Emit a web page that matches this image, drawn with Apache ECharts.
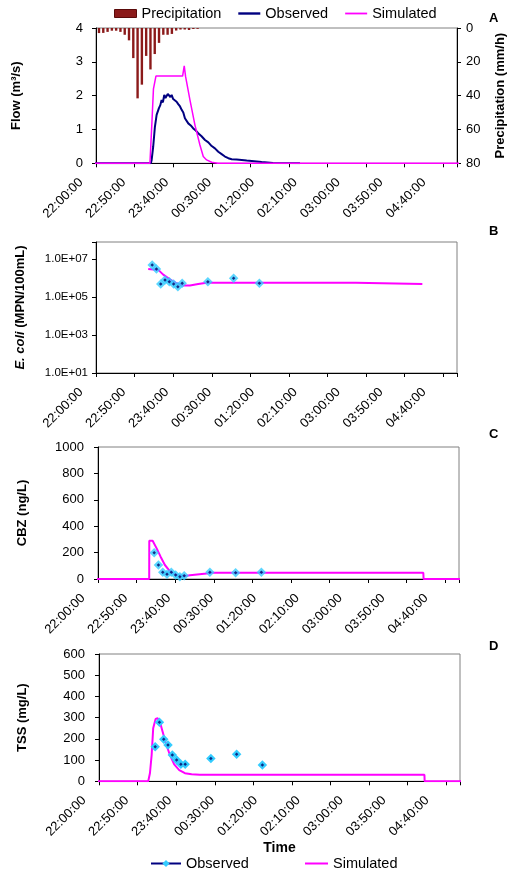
<!DOCTYPE html>
<html><head><meta charset="utf-8">
<script src="https://cdn.jsdelivr.net/npm/echarts@6/dist/echarts.min.js"></script>
<style>html,body{margin:0;padding:0;background:#fff}#c{width:510px;height:871px}</style>
</head><body><div id="c"></div>
<script>
// All times are minutes after 22:00:00
const timeLabels = ['22:00:00','22:50:00','23:40:00','00:30:00','01:20:00','02:10:00','03:00:00','03:50:00','04:40:00'];
const labelTimes = [0,50,100,150,200,250,300,350,400];

// Panel A
const precipTime = [23,28,33,38,43,48,53,58,63,68,73,78,83,88,93,98,103,108,113,118,123,128,133,138];
const precipValue = [3,2.9,2.3,1.6,1.6,2.3,4,7.3,17.8,41.6,33.5,16.5,24.5,15.4,8.8,4,4,3.5,1.5,0.9,0.9,1.2,0.6,0.5];
const flowObsTime = [0,83.5,84.4,86.2,88.2,90.2,92.9,94.5,96,97.5,99.1,100.5,101.9,103.2,104.6,106.2,107.7,109.5,111.6,113.5,115.4,117.5,119.4,121.3,123.2,125.1,127.1,130,132.9,135.8,138.7,142.6,146.6,150.5,154.4,158.2,162.1,166,169.9,173.8,177.7,183.5,189.4,195.2,201.1,212.7,225.9,257.4];
const flowObsValue = [0,0,0.1,0.49,1.08,1.43,1.63,1.72,1.87,1.8,2.02,1.93,1.92,2.05,2.04,1.96,2.02,1.9,1.87,1.82,1.75,1.68,1.58,1.5,1.33,1.28,1.18,1.12,1.03,0.97,0.89,0.8,0.69,0.62,0.51,0.44,0.34,0.27,0.2,0.15,0.12,0.11,0.1,0.08,0.07,0.04,0.01,0];
const flowSimTime = [0,82.4,83,84.7,86.5,89.4,120.5,122.4,124,129.1,134.9,140.7,144.6,148.5,154.4,161.7,445];
const flowSimValue = [0,0,0,1.2,2.2,2.58,2.58,2.88,2.56,1.87,1.13,0.54,0.2,0.1,0.03,0,0];

// Sampling times for observed water quality (B, C, D)
const sampleTime = [85,90,95,100,105,110,115,120,150,180,210];

// Panel B: E. coli (MPN/100mL)
const ecoliObs = [4.8e6,3.0e6,4.8e5,7.8e5,6.4e5,4.8e5,3.5e5,5.3e5,6.4e5,9.6e5,5.3e5];
const ecoliSimTime = [80.4,92.5,97.9,105.7,113.5,121.2,129.1,138.7,148.5,322.4,323.9,400.1];
const ecoliSimValue = [3.0e6,2.6e6,1.5e6,8.5e5,5.3e5,4.0e5,4.0e5,4.8e5,5.6e5,5.6e5,4.8e5,4.8e5];

// Panel C: CBZ (ng/L)
const cbzObs = [199,106,51,36,51,30,17,25,51,48,51];
const cbzSimTime = [0,79.2,79.3,83.2,87.9,92.5,97.5,102.6,107.2,113.1,120.9,126.7,146.2,152,398.9,399.2,445];
const cbzSimValue = [0,0,290,290,232,169,106,66,41,28,23,28,41,47,47,0,0];

// Panel D: TSS (mg/L)
const tssObs = [163,278,198,171,124,100,80,80,108,127,77];
const tssSimTime = [0,76.9,78.9,80.9,82.7,85.5,87.9,90.5,93.7,97.5,102.2,107.2,113.1,119.7,127.5,137.2,399,399.3,445];
const tssSimValue = [0,0,38,124,250,294,297,281,234,179,124,80,53,38,33,31,31,0,0];

const FONT = 'Liberation Sans, Arial, sans-serif';
const pairs = (t, v) => t.map((x, i) => [x, v[i]]);
const timeFmt = v => { const i = labelTimes.indexOf(Math.round(v * 1000) / 1000); return i >= 0 ? timeLabels[i] : ''; };
const nameFmt = n => n.split('|')[0];
const plainFmt = v => String(v);

const panels = [
  {left: 96, top: 28, height: 135.3, lm: 13},
  {left: 96, top: 242, height: 131, lm: 8},
  {left: 98, top: 447, height: 132, lm: 14},
  {left: 99, top: 654, height: 127.3, lm: 14}
];
const W = 361, LABEL_SHIFT = 15;

const grids = [], xAxes = [], yAxes = [];
panels.forEach((p, k) => {
  grids.push({left: p.left, top: p.top, width: W, height: p.height, show: true, borderColor: '#808080', borderWidth: 1,
    backgroundColor: 'transparent', containLabel: false, outerBoundsMode: 'none'});
  grids.push({left: p.left - LABEL_SHIFT, top: p.top, width: W, height: p.height, show: false, containLabel: false, outerBoundsMode: 'none'});
  xAxes.push({type: 'value', gridIndex: 2 * k, min: 19.5, max: 440.5, interval: 45,
    axisLine: {show: true, lineStyle: {color: '#000', width: 1}},
    axisTick: {show: true, length: 4, lineStyle: {color: '#000'}},
    axisLabel: {show: false}, splitLine: {show: false}});
  xAxes.push({type: 'value', gridIndex: 2 * k + 1, min: 0, max: 421, interval: 50,
    axisLine: {show: false}, axisTick: {show: false}, splitLine: {show: false},
    axisLabel: {show: true, rotate: 45, margin: 17, fontSize: 13, color: '#000', fontFamily: FONT, formatter: timeFmt, showMaxLabel: false}});
});
xAxes[6].name = 'Time';
xAxes[6].nameLocation = 'middle';
xAxes[6].nameGap = 60;
xAxes[6].nameTextStyle = {fontSize: 14, fontWeight: 'bold', color: '#000', fontFamily: FONT};

const yName = (gap) => ({nameLocation: 'middle', nameGap: gap, nameRotate: 90});
const yLine = {axisLine: {show: true, lineStyle: {color: '#000'}}, axisTick: {show: true, length: 4, lineStyle: {color: '#000'}}, splitLine: {show: false}};
const yLab = (m, fs, fmt) => ({axisLabel: {fontSize: fs, color: '#000', fontFamily: FONT, margin: m, formatter: fmt}});
const nameStyle = {fontSize: 13, fontWeight: 'bold', color: '#000', fontFamily: FONT};

// 0: flow
yAxes.push(Object.assign({type: 'value', gridIndex: 0, min: 0, max: 4, interval: 1, name: 'Flow (m³/s)', nameTextStyle: nameStyle}, yName(73), yLine, yLab(panels[0].lm, 13, plainFmt)));
// 1: precipitation (right, inverted)
yAxes.push(Object.assign({type: 'value', gridIndex: 0, position: 'right', inverse: true, min: 0, max: 80, interval: 20,
  name: 'Precipitation (mm/h)', nameTextStyle: nameStyle}, yName(37), yLine, yLab(9, 13, plainFmt)));
// 2: hidden label grid A
yAxes.push({type: 'value', gridIndex: 1, show: false, min: 0, max: 1});
// 3: E. coli log
yAxes.push(Object.assign({type: 'log', gridIndex: 2, logBase: 10, min: 10, max: 7.85e7, interval: 2,
  name: '{i|E. coli} (MPN/100mL)', nameTextStyle: Object.assign({}, nameStyle, {rich: {i: {fontStyle: 'italic', fontWeight: 'bold', fontSize: 13, fontFamily: FONT, color: '#000'}}})}, yName(69), yLine,
  yLab(panels[1].lm, 11.5, v => {
    const e = Math.log10(v); if (Math.abs(e - Math.round(e)) > 1e-6) return '';
    return '1.0E+' + String(Math.round(e)).padStart(2, '0'); })));
yAxes.push({type: 'value', gridIndex: 3, show: false, min: 0, max: 1});
// 5: CBZ
yAxes.push(Object.assign({type: 'value', gridIndex: 4, min: 0, max: 1000, interval: 200, name: 'CBZ (ng/L)', nameTextStyle: nameStyle}, yName(69), yLine, yLab(panels[2].lm, 13, plainFmt)));
yAxes.push({type: 'value', gridIndex: 5, show: false, min: 0, max: 1});
// 7: TSS
yAxes.push(Object.assign({type: 'value', gridIndex: 6, min: 0, max: 600, interval: 100, name: 'TSS (mg/L)', nameTextStyle: nameStyle}, yName(70), yLine, yLab(panels[3].lm, 13, plainFmt)));
yAxes.push({type: 'value', gridIndex: 7, show: false, min: 0, max: 1});

const OBS_FILL = '#33CCFF', OBS_DOT = '#000066', NAVY = '#000080', MAGENTA = '#FF00FF';
const obsSeries = (name, xi, yi, vals, type) => ([
  {name: name, type: type, xAxisIndex: xi, yAxisIndex: yi, data: pairs(sampleTime, vals), symbol: 'diamond', symbolSize: 9.5,
   showSymbol: true, itemStyle: {color: OBS_FILL}, lineStyle: {width: 2, color: NAVY, opacity: 0}, z: 5},
  {name: name + '_dot', type: 'scatter', xAxisIndex: xi, yAxisIndex: yi, data: pairs(sampleTime, vals), symbol: 'diamond', symbolSize: 3.5,
   itemStyle: {color: OBS_DOT}, silent: true, z: 6}
]);
const simSeries = (name, xi, yi, t, v, w) => ({name: name, type: 'line', xAxisIndex: xi, yAxisIndex: yi, data: pairs(t, v),
  symbol: 'none', lineStyle: {color: MAGENTA, width: w}, itemStyle: {color: MAGENTA}, z: 3});

const series = [
  {name: 'Precipitation', type: 'bar', xAxisIndex: 0, yAxisIndex: 1, data: pairs(precipTime, precipValue), barWidth: 2.4,
   itemStyle: {color: '#8B1A1A'}, z: 2},
  {name: 'Observed', type: 'line', xAxisIndex: 0, yAxisIndex: 0, data: pairs(flowObsTime, flowObsValue), symbol: 'none',
   lineStyle: {color: NAVY, width: 2}, itemStyle: {color: NAVY}, z: 3},
  simSeries('Simulated', 0, 0, flowSimTime, flowSimValue, 1.5),
  simSeries('Simulated|B', 2, 3, ecoliSimTime, ecoliSimValue, 2),
  ...obsSeries('Observed|B', 2, 3, ecoliObs, 'scatter'),
  simSeries('Simulated|C', 4, 5, cbzSimTime, cbzSimValue, 2),
  ...obsSeries('Observed|C', 4, 5, cbzObs, 'scatter'),
  simSeries('Simulated|D', 6, 7, tssSimTime, tssSimValue, 2),
  ...obsSeries('Observed|D', 6, 7, tssObs, 'line')
];

const letter = (t, top) => ({text: t, left: 484, top: top, textStyle: {fontSize: 13, fontWeight: 'bold', color: '#000', fontFamily: FONT}});
const legendText = {fontSize: 14.5, color: '#000', fontFamily: FONT};

const chart = echarts.init(document.getElementById('c'), null, {renderer: 'canvas'});
chart.setOption({
  animation: false,
  backgroundColor: '#fff',
  textStyle: {fontFamily: FONT},
  title: [letter('A', 7), letter('B', 220), letter('C', 423), letter('D', 635)],
  legend: [
    {data: [{name: 'Precipitation', icon: 'rect', itemStyle: {borderColor: '#5A0A0A', borderWidth: 1}},
            {name: 'Observed', icon: 'path://M0,0H22V2.4H0Z'}, {name: 'Simulated', icon: 'path://M0,0H22V1.8H0Z'}],
     left: 109, top: 1, itemWidth: 22, itemHeight: 8, itemGap: 17, formatter: nameFmt,
     textStyle: legendText, selectedMode: false},
    {data: [{name: 'Observed|D', lineStyle: {opacity: 1, width: 2, color: NAVY}}],
     left: 145, top: 851, itemWidth: 30, itemHeight: 9, formatter: nameFmt, textStyle: legendText, selectedMode: false},
    {data: [{name: 'Simulated|D', icon: 'path://M0,0H23V2H0Z'}],
     left: 300, top: 851, itemWidth: 23, itemHeight: 9, formatter: nameFmt, textStyle: legendText, selectedMode: false}
  ],
  grid: grids, xAxis: xAxes, yAxis: yAxes, series: series
});
</script></body></html>
